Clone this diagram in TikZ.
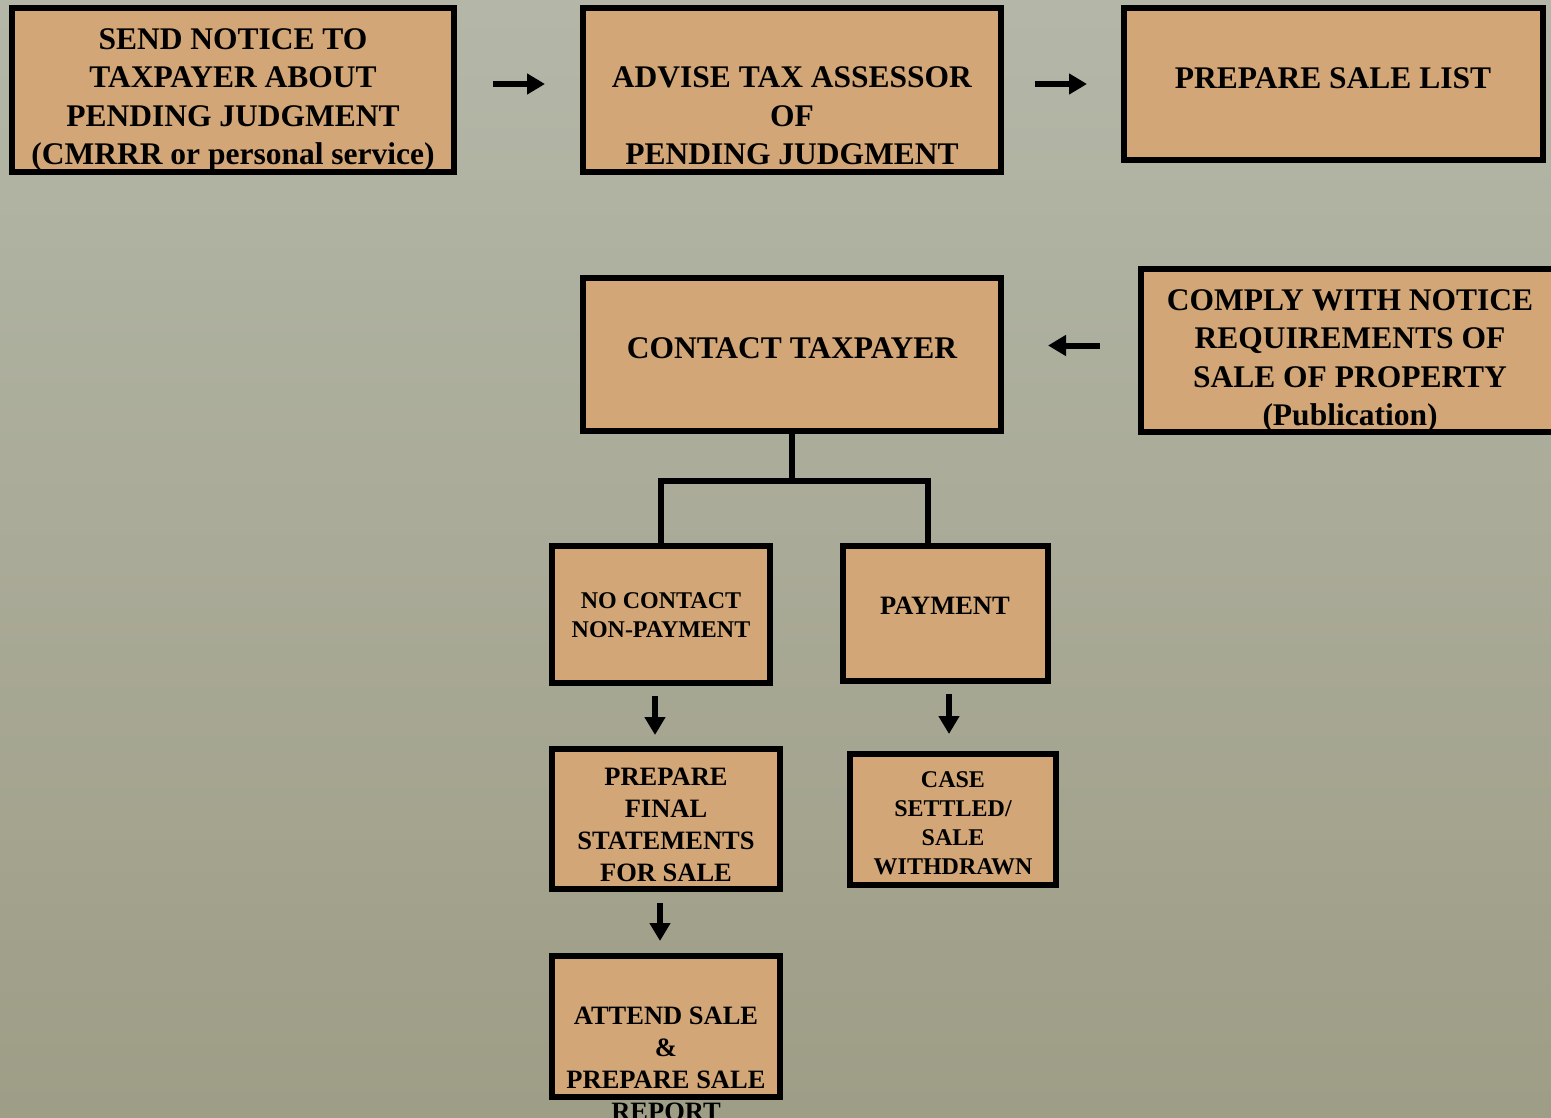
\documentclass[tikz,border=0pt]{standalone}
\usepackage{fontspec}
\setmainfont{Liberation Serif}
\usetikzlibrary{arrows.meta}
\definecolor{tan}{RGB}{210,166,118}
\definecolor{bgtop}{RGB}{180,183,168}
\definecolor{bgbot}{RGB}{158,157,134}
\begin{document}
\begin{tikzpicture}[x=1pt, y=-1pt,
    box/.style={draw=black, fill=tan, line width=6pt, inner sep=0pt},
    big/.style={align=center, font=\bfseries\fontsize{31.5}{38.5}\selectfont},
    mid/.style={align=center, font=\bfseries\fontsize{26.5}{32}\selectfont},
    small/.style={align=center, font=\bfseries\fontsize{24}{29}\selectfont},
    flow/.style={line width=6pt, -{Triangle[length=18pt,width=20pt]}},
    link/.style={line width=6pt, line join=miter}]
    % background
    \useasboundingbox (0,0) rectangle (1551,1118);
    \shade[top color=bgtop, bottom color=bgbot] (0,0) rectangle (1551,1118);

    % top row
    \node[box, minimum width=442, minimum height=164] (send) at (233,90) {};
    \node[box, minimum width=418, minimum height=164] (advise) at (792,90) {};
    \node[box, minimum width=419, minimum height=152] (list) at (1333.5,84) {};
    \node[big] (sendtxt) at (233,100) {SEND NOTICE TO\\TAXPAYER ABOUT\\PENDING JUDGMENT\\(CMRRR or personal service)};
    \node[big] (advisetxt) at (792,116) {ADVISE TAX ASSESSOR\\OF\\PENDING JUDGMENT};
    \node[big] (listtxt) at (1333,78) {PREPARE SALE LIST};

    % middle row
    \node[box, minimum width=418, minimum height=153] (contact) at (792,354.5) {};
    \node[box, minimum width=414, minimum height=163] (comply) at (1348,350.5) {};
    \node[big] (contacttxt) at (792,348) {CONTACT TAXPAYER};
    \node[big] (complytxt) at (1350,361) {COMPLY WITH NOTICE\\REQUIREMENTS OF\\SALE OF PROPERTY\\(Publication)};

    % branches
    \node[box, minimum width=218, minimum height=137] (nocontact) at (661,614.5) {};
    \node[box, minimum width=205, minimum height=135] (payment) at (945.5,613.5) {};
    \node[box, minimum width=228, minimum height=140] (prepfinal) at (666,819) {};
    \node[box, minimum width=206, minimum height=131] (settled) at (953,819.5) {};
    \node[box, minimum width=228, minimum height=141] (attend) at (666,1026.5) {};
    \node[small] (nocontacttxt) at (661,615) {NO CONTACT\\NON-PAYMENT};
    \node[mid] (paymenttxt) at (945,606) {PAYMENT};
    \node[mid] (prepfinaltxt) at (666,825) {PREPARE\\FINAL\\STATEMENTS\\FOR SALE};
    \node[small] (settledtxt) at (953,823) {CASE\\SETTLED/\\SALE\\WITHDRAWN};
    \node[mid] (attendtxt) at (666,1064) {ATTEND SALE\\\&\\PREPARE SALE\\REPORT};

    % arrows
    \draw[flow, shorten <=36pt, shorten >=35pt] ([yshift=6pt]send.east) -- ([yshift=6pt]advise.west);
    \draw[flow, shorten <=31pt, shorten >=34pt] ([yshift=6pt]advise.east) -- ([yshift=6pt]advise.east -| list.west);
    \draw[flow, shorten <=38pt, shorten >=44pt] ([yshift=5pt]comply.west) -- ([yshift=5pt]comply.west -| contact.east);
    \draw[flow, shorten <=10pt, shorten >=11pt] ([xshift=-6pt]nocontact.south) -- ([xshift=-6pt]nocontact.south |- prepfinal.north);
    \draw[flow, shorten <=10pt, shorten >=17pt] ([xshift=3.5pt]payment.south) -- ([xshift=3.5pt]payment.south |- settled.north);
    \draw[flow, shorten <=11pt, shorten >=12pt] ([xshift=-6pt]prepfinal.south) -- ([xshift=-6pt]prepfinal.south |- attend.north);

    % tree
    \coordinate (split) at (792,481);
    \draw[link] (contact.south) -- (split);
    \draw[link] (split) -| (nocontact.north);
    \draw[link] (split) -| ([xshift=-17.5pt]payment.north);
\end{tikzpicture}
\end{document}
